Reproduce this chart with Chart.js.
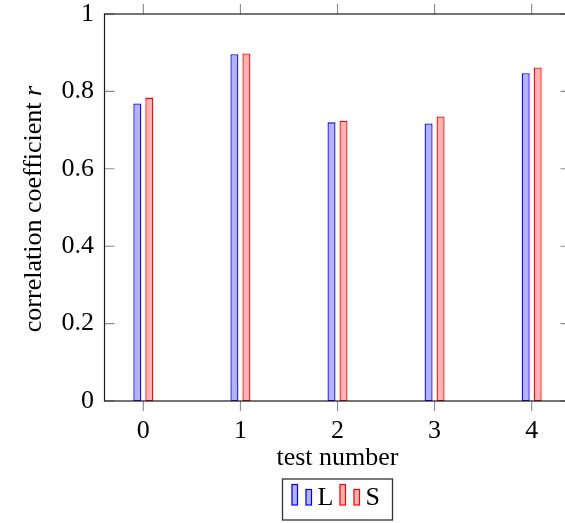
<!DOCTYPE html>
<html><head><meta charset="utf-8">
<script src="https://cdn.jsdelivr.net/npm/chart.js@4"></script>
<style>html,body{margin:0;padding:0;overflow:hidden;background:#fff;width:565px;height:523px}canvas{display:block}</style>
</head><body>
<canvas id="c" width="600" height="523"></canvas>
<script>
const categories = [0, 1, 2, 3, 4];
const seriesL = [0.769, 0.896, 0.720, 0.717, 0.847];
const seriesS = [0.784, 0.898, 0.724, 0.735, 0.862];
const seriesNames = ['L', 'S'];
const yTickValues = [0, 0.2, 0.4, 0.6, 0.8, 1];
const yTickLabels = ['0', '0.2', '0.4', '0.6', '0.8', '1'];
const xTickLabels = ['0', '1', '2', '3', '4'];
const xTitle = 'test number';
const yTitleMain = 'correlation coefficient ';
const yTitleVar = 'r';

const FONT = "'Liberation Serif', 'Times New Roman', serif";
const FS = 26;
Chart.defaults.color = '#000';
Chart.defaults.font.family = FONT;

const colors = [
  {fill: 'rgb(179,179,255)', stroke: 'rgb(0,0,255)'},
  {fill: 'rgb(255,179,179)', stroke: 'rgb(255,0,0)'}
];

const framePlugin = {
  id: 'frame',
  afterDatasetsDraw(chart) {
    const {ctx, chartArea: a, scales: {x, y}} = chart;
    ctx.save();
    ctx.strokeStyle = '#8a8a8a';
    ctx.lineWidth = 1.1;
    ctx.beginPath();
    x.ticks.forEach(t => {
      const px = x.getPixelForValue(t.value);
      ctx.moveTo(px, a.top); ctx.lineTo(px, a.top - 10);
      ctx.moveTo(px, a.bottom); ctx.lineTo(px, a.bottom + 10);
    });
    y.ticks.forEach(t => {
      const py = y.getPixelForValue(t.value);
      ctx.moveTo(a.left, py); ctx.lineTo(a.left + 10, py);
      ctx.moveTo(a.right, py); ctx.lineTo(a.right - 10, py);
    });
    ctx.stroke();
    ctx.strokeStyle = '#1a1a1a';
    ctx.lineWidth = 1.2;
    ctx.strokeRect(a.left, a.top, a.right - a.left, a.bottom - a.top);

    // y title with italic variable
    ctx.fillStyle = '#000';
    const cy = (a.top + a.bottom) / 2 + 1.5;
    ctx.translate(41, cy);
    ctx.rotate(-Math.PI / 2);
    ctx.textBaseline = 'alphabetic';
    ctx.textAlign = 'left';
    const fN = FS + 'px ' + FONT, fI = 'italic ' + FS + 'px ' + FONT;
    ctx.font = fN; const w1 = ctx.measureText(yTitleMain).width;
    ctx.font = fI; const w2 = ctx.measureText(yTitleVar).width;
    const sx = -(w1 + w2) / 2;
    ctx.font = fN; ctx.fillText(yTitleMain, sx, 0);
    ctx.font = fI; ctx.fillText(yTitleVar, sx + w1, 0);
    ctx.restore();

    // legend
    ctx.save();
    const cx = (a.left + a.right) / 2;
    const bx = cx - 55, by = 479, bw = 110, bh = 41;
    ctx.strokeStyle = '#333';
    ctx.lineWidth = 1.3;
    ctx.strokeRect(bx, by, bw, bh);
    ctx.font = FS + 'px ' + FONT;
    ctx.textBaseline = 'alphabetic';
    ctx.fillStyle = '#000';
    const base = 505;
    const offs = [bx + 9, bx + 57];
    chart.data.datasets.forEach((ds, i) => {
      const ox = offs[i];
      ctx.fillStyle = ds.backgroundColor;
      ctx.strokeStyle = ds.borderColor;
      ctx.lineWidth = 1.2;
      ctx.fillRect(ox, base - 21, 6.5, 21); ctx.strokeRect(ox + 0.5, base - 20.5, 5.5, 20.5);
      ctx.fillRect(ox + 14, base - 16, 6.5, 16); ctx.strokeRect(ox + 14.5, base - 15.5, 5.5, 15.5);
      ctx.fillStyle = '#000';
      ctx.fillText(ds.label, ox + 26, base);
    });
    ctx.restore();
  }
};

const makeData = vals => categories.map((c, i) => ({x: c, y: vals[i]}));

new Chart(document.getElementById('c'), {
  type: 'bar',
  data: {
    datasets: [seriesL, seriesS].map((vals, i) => ({
      label: seriesNames[i],
      data: makeData(vals),
      backgroundColor: colors[i].fill,
      borderColor: colors[i].stroke,
      borderWidth: 1.3,
      borderSkipped: false,
      categoryPercentage: 0.2472,
      barPercentage: 0.6667
    }))
  },
  options: {
    responsive: false,
    animation: false,
    devicePixelRatio: 1,
    layout: {padding: {left: 0, right: 29.5, top: 14, bottom: 0}},
    plugins: {legend: {display: false}, tooltip: {enabled: false}},
    scales: {
      x: {
        type: 'linear',
        offset: false,
        min: -0.4, max: 4.4,
        grid: {display: false, drawTicks: false, offset: false},
        border: {display: false},
        afterBuildTicks: s => { s.ticks = categories.map(v => ({value: v})); },
        ticks: {
          padding: 14.5,
          font: {size: FS, lineHeight: 1.2},
          maxRotation: 0,
          callback: (v, i) => xTickLabels[i]
        },
        title: {display: true, text: xTitle, font: {size: FS, lineHeight: 1.2}, padding: {top: 0, bottom: 49}},
        afterFit: s => { s.height = 122; s.paddingLeft = 0; s.paddingRight = 0; s.paddingTop = 0; s.paddingBottom = 0; }
      },
      y: {
        min: 0, max: 1,
        grid: {display: false, drawTicks: false},
        border: {display: false},
        afterBuildTicks: s => { s.ticks = yTickValues.map(v => ({value: v})); },
        ticks: {
          padding: 10.5,
          font: {size: FS, lineHeight: 1},
          callback: (v, i) => yTickLabels[i]
        },
        afterFit: s => { s.width = 104.5; s.paddingTop = 0; s.paddingBottom = 0; s.paddingLeft = 0; s.paddingRight = 0; }
      }
    }
  },
  plugins: [framePlugin]
});
</script>
</body></html>
